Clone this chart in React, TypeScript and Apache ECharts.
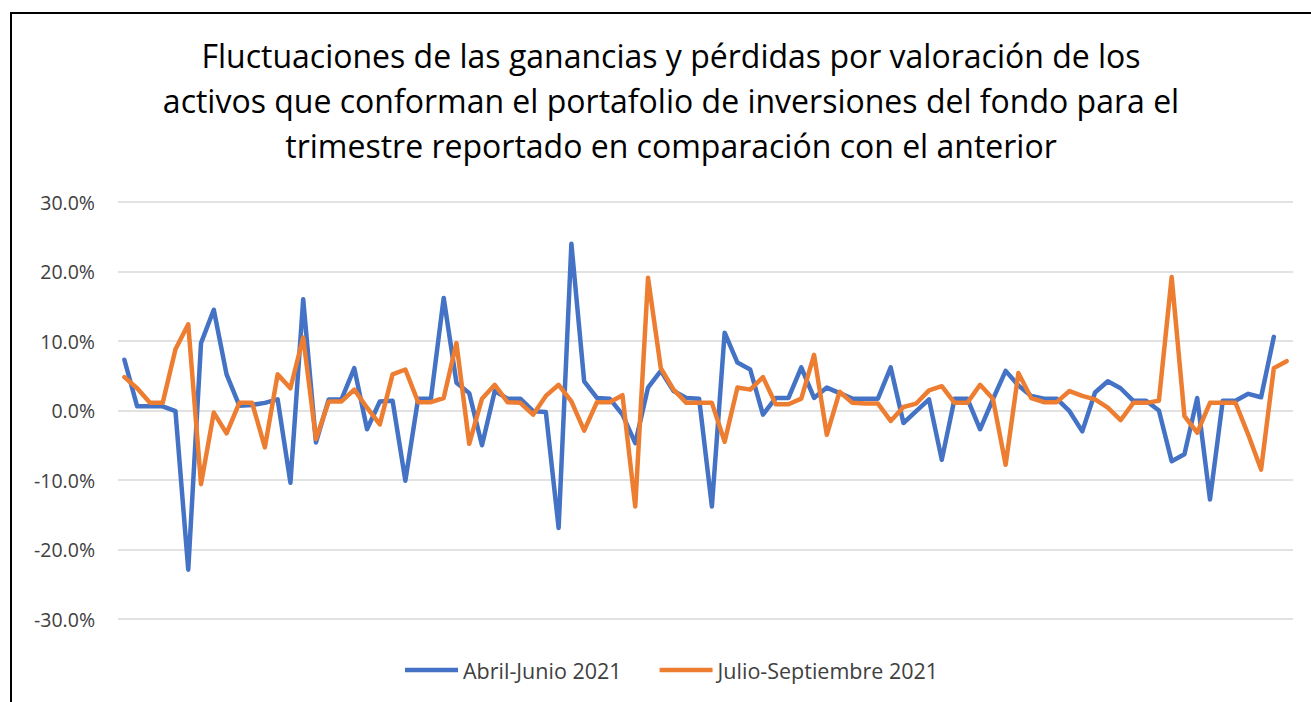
import React, { useEffect, useRef } from "react";
import * as echarts from "echarts";

const categories: string[] = Array.from({ length: 92 }, (_, i) => String(i + 1));

const abrilJunio: (number | null)[] = [
  7.3, 0.6, 0.6, 0.6, -0.1, -22.9, 9.7, 14.5, 5.2, 0.7,
  0.8, 1.1, 1.6, -10.4, 16.0, -4.6, 1.6, 1.6, 6.1, -2.7,
  1.3, 1.4, -10.1, 1.7, 1.7, 16.2, 4.0, 2.5, -5.0, 2.8,
  1.7, 1.7, -0.1, -0.2, -16.9, 24.0, 4.2, 1.8, 1.7, -0.6,
  -4.7, 3.3, 5.7, 2.8, 1.8, 1.7, -13.8, 11.2, 6.9, 5.9,
  -0.6, 1.8, 1.8, 6.2, 1.8, 3.3, 2.5, 1.7, 1.7, 1.7,
  6.2, -1.8, -0.1, 1.6, -7.1, 1.7, 1.7, -2.7, 1.6, 5.7,
  3.6, 2.1, 1.7, 1.7, -0.1, -3.0, 2.6, 4.2, 3.2, 1.4,
  1.4, 0.0, -7.3, -6.3, 1.8, -12.8, 1.4, 1.4, 2.4, 1.9,
  10.6, null,
];

const julioSeptiembre: number[] = [
  4.8, 3.2, 1.1, 1.1, 8.8, 12.4, -10.6, -0.3, -3.3, 1.1,
  1.1, -5.3, 5.2, 3.2, 10.5, -4.1, 1.3, 1.3, 3.0, 0.4,
  -2.0, 5.2, 5.9, 1.2, 1.2, 1.8, 9.7, -4.8, 1.7, 3.7,
  1.2, 1.1, -0.6, 2.1, 3.7, 1.3, -2.9, 1.2, 1.2, 2.2,
  -13.8, 19.1, 6.1, 3.0, 1.1, 1.1, 1.1, -4.5, 3.3, 3.0,
  4.8, 0.9, 0.9, 1.7, 8.0, -3.5, 2.7, 1.1, 1.0, 1.0,
  -1.5, 0.5, 1.0, 2.9, 3.5, 1.1, 1.1, 3.7, 1.7, -7.8,
  5.4, 1.8, 1.2, 1.2, 2.8, 2.1, 1.6, 0.4, -1.4, 1.1,
  1.1, 1.4, 19.2, -0.8, -3.2, 1.1, 1.1, 1.1, -3.5, -8.5,
  6.1, 7.1,
];

const seriesNames = ["Abril-Junio 2021", "Julio-Septiembre 2021"];
const titleText =
  "Fluctuaciones de las ganancias y pérdidas por valoración de los\nactivos que conforman el portafolio de inversiones del fondo para el\ntrimestre reportado en comparación con el anterior";

const FONT = "'Open Sans', sans-serif";

export default function App() {
  const ref = useRef<HTMLDivElement>(null);
  useEffect(() => {
    if (!ref.current) return;
    const chart = echarts.init(ref.current, undefined, { renderer: "svg" });
    const toFrac = (arr: (number | null)[]) => arr.map((v) => (v === null ? null : v / 100));
    chart.setOption({
      animation: false,
      backgroundColor: "#ffffff",
      title: {
        text: titleText,
        left: 666,
        textAlign: "center",
        top: 28,
        textStyle: {
          fontFamily: FONT,
          fontSize: 32,
          fontWeight: "normal",
          lineHeight: 45,
          color: "#000000",
        },
      },
      graphic: [
        {
          type: "rect",
          shape: { x: 11, y: 13, width: 1400, height: 800 },
          style: { fill: "none", stroke: "#000000", lineWidth: 2 },
          silent: true,
        },
      ],
      legend: {
        bottom: 16,
        left: 400,
        icon: "rect",
        itemWidth: 53,
        itemHeight: 4.5,
        itemGap: 38,
        textStyle: { fontFamily: FONT, fontSize: 21.5, color: "#404040" },
        data: seriesNames,
      },
      grid: { left: 118, right: 18, top: 202, bottom: 83, containLabel: false },
      xAxis: {
        type: "category",
        data: categories,
        boundaryGap: true,
        axisLine: { show: false },
        axisTick: { show: false },
        axisLabel: { show: false },
        splitLine: { show: false },
      },
      yAxis: {
        type: "value",
        min: -0.3,
        max: 0.3,
        interval: 0.1,
        axisLine: { show: false },
        axisTick: { show: false },
        axisLabel: {
          fontFamily: FONT,
          fontSize: 19.5,
          color: "#404040",
          margin: 23,
          formatter: (v: number) => (v * 100).toFixed(1) + "%",
        },
        splitLine: { lineStyle: { color: "#d9d9d9", width: 1.5 } },
      },
      series: [
        {
          name: seriesNames[0],
          type: "line",
          data: toFrac(abrilJunio),
          symbol: "none",
          showSymbol: false,
          lineStyle: { color: "#4472C4", width: 4.5, join: "round", cap: "round" },
          itemStyle: { color: "#4472C4" },
        },
        {
          name: seriesNames[1],
          type: "line",
          data: toFrac(julioSeptiembre),
          symbol: "none",
          showSymbol: false,
          lineStyle: { color: "#ED7D31", width: 4.5, join: "round", cap: "round" },
          itemStyle: { color: "#ED7D31" },
        },
      ],
    });
    return () => chart.dispose();
  }, []);
  return (
    <div
      ref={ref}
      style={{ position: "fixed", left: 0, top: 0, width: 1311, height: 702 }}
    />
  );
}
